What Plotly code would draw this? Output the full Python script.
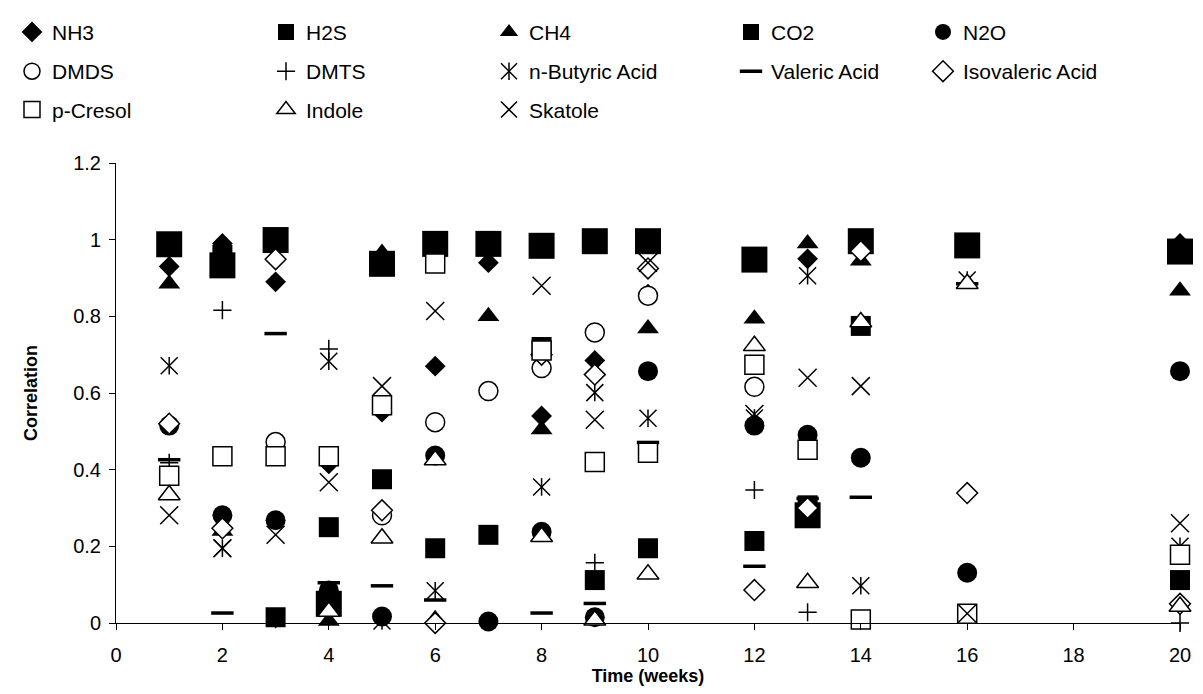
import plotly.graph_objects as go

# Sampling weeks
weeks = [1, 2, 3, 4, 5, 6, 7, 8, 9, 10, 12, 13, 14, 16, 20]

# Correlation per compound at each week (None = no value)
nh3        = [0.93, 0.99, 0.89, 0.415, 0.55, 0.67, 0.94, 0.54, 0.685, 0.858, 0.95, 0.95, None, None, 0.99]
h2s        = [None, 0.96, 0.015, 0.25, 0.375, 0.195, 0.23, 0.72, 0.112, 0.195, 0.214, 0.307, 0.775, None, 0.112]
ch4        = [0.885, 0.24, None, 0.005, 0.965, 0.01, 0.80, 0.505, None, 0.768, 0.794, 0.99, 0.945, None, 0.867]
co2        = [0.988, 0.933, 0.999, 0.05, 0.937, 0.989, 0.989, 0.984, 0.996, 0.996, 0.948, 0.281, 0.996, 0.985, 0.969]
n2o        = [0.515, 0.281, 0.268, 0.085, 0.017, 0.437, 0.004, 0.238, 0.015, 0.657, 0.515, 0.491, 0.431, 0.131, 0.657]
dmds       = [None, None, 0.472, None, 0.281, 0.524, 0.605, 0.665, 0.758, 0.854, 0.616, None, None, None, None]
dmts       = [0.418, 0.816, 0.01, 0.715, None, None, None, None, 0.157, None, 0.347, 0.028, None, None, 0.0]
n_butyric  = [0.671, 0.195, None, 0.683, 0.005, 0.084, None, 0.355, 0.601, 0.534, 0.535, 0.906, 0.097, 0.895, 0.2]
valeric    = [0.426, 0.026, 0.755, 0.105, 0.097, 0.06, None, 0.026, 0.051, 0.471, 0.148, 0.325, 0.328, 0.885, None]
isovaleric = [0.52, 0.247, 0.949, None, 0.294, 0.0, None, 0.70, 0.648, 0.925, 0.086, 0.30, 0.97, 0.339, 0.05]
p_cresol   = [0.384, 0.435, 0.435, 0.435, 0.568, 0.938, None, 0.711, 0.42, 0.444, 0.674, 0.452, 0.009, 0.024, 0.178]
indole     = [0.334, None, None, 0.03, 0.221, 0.425, None, 0.225, 0.007, 0.127, 0.723, 0.105, 0.785, 0.885, 0.043]
skatole    = [0.281, 0.195, 0.23, 0.367, 0.618, 0.814, None, 0.88, 0.53, 0.94, 0.545, 0.64, 0.618, 0.025, 0.26]

names = ["NH3", "H2S", "CH4", "CO2", "N2O",
         "DMDS", "DMTS", "n-Butyric Acid", "Valeric Acid", "Isovaleric Acid",
         "p-Cresol", "Indole", "Skatole"]
values = [nh3, h2s, ch4, co2, n2o, dmds, dmts, n_butyric, valeric, isovaleric,
          p_cresol, indole, skatole]

FONT = "Liberation Sans, Arial, sans-serif"

def filled(symbol, size):
    return dict(symbol=symbol, size=size, color="black", line=dict(width=0))

def hollow(symbol, size):
    return dict(symbol=symbol, size=size, color="white",
                line=dict(color="black", width=1.5))

def stroke(symbol, size, width=1.5):
    return dict(symbol=symbol, size=size, color="black",
                line=dict(color="black", width=width))

markers = [
    filled("diamond", 16),
    filled("square", 20),
    filled("triangle-up", 19),
    filled("square", 26),
    filled("circle", 20),
    hollow("circle", 19),
    stroke("cross-thin-open", 13),
    stroke("x-thin-open", 17),
    stroke("line-ew-open", 16, 3.5),
    hollow("diamond", 16),
    hollow("square", 19),
    hollow("triangle-up", 19),
    stroke("x-thin-open", 18),
]

W, H = 1203, 694
ml, mr, mt, mb = 116, 23, 155, 71
pw, ph = W - ml - mr, H - mt - mb

# legend grid: symbol centre x (px) per column, entry centre y (px) per row
col_px = [32, 286, 509, 751, 943]
row_px = [22, 62, 101]

def legend_box(i):
    r, c = divmod(i, 5)
    return dict(
        x=(col_px[c] - 20 - ml) / pw,
        y=(H - mb - row_px[r]) / ph,
        xanchor="left", yanchor="middle",
        orientation="h", bgcolor="rgba(0,0,0,0)",
        font=dict(family=FONT, size=21, color="black"),
        itemsizing="trace",
    )

fig = go.Figure()
layout_legends = {}
for i, (name, vals, mk) in enumerate(zip(names, values, markers)):
    key = "legend" if i == 0 else f"legend{i + 1}"
    fig.add_trace(go.Scatter(
        x=weeks, y=vals, mode="markers", name=name, marker=mk,
        cliponaxis=False, legend=key,
    ))
    layout_legends[key] = legend_box(i)
    if name == "n-Butyric Acid":
        # vertical stroke that turns the x into a six-armed star
        fig.add_trace(go.Scatter(
            x=weeks, y=vals, mode="markers", name=" ",
            marker=stroke("line-ns-open", 12.5), cliponaxis=False,
            legend="legend14",
        ))
        layout_legends["legend14"] = legend_box(i)

fig.update_layout(
    width=W, height=H,
    margin=dict(l=ml, r=mr, t=mt, b=mb),
    paper_bgcolor="white", plot_bgcolor="white",
    font=dict(family=FONT, size=20, color="black"),
    showlegend=True,
    **layout_legends,
)

fig.update_xaxes(
    range=[0, 20], dtick=2, tick0=0,
    showline=True, linecolor="black", linewidth=1,
    ticks="outside", ticklen=6, tickcolor="black",
    showgrid=False, zeroline=False,
    tickfont=dict(family=FONT, size=20),
    ticklabelstandoff=8,
    title=dict(text="<b>Time (weeks)</b>", font=dict(family=FONT, size=18), standoff=0),
)
fig.update_yaxes(
    range=[0, 1.2], dtick=0.2, tick0=0,
    showline=True, linecolor="black", linewidth=1,
    ticks="outside", ticklen=6, tickcolor="black",
    showgrid=False, zeroline=False,
    tickfont=dict(family=FONT, size=20),
    ticklabelstandoff=4,
    title=dict(text="<b>Correlation</b>", font=dict(family=FONT, size=18), standoff=30),
)

fig.write_html("out.html")
